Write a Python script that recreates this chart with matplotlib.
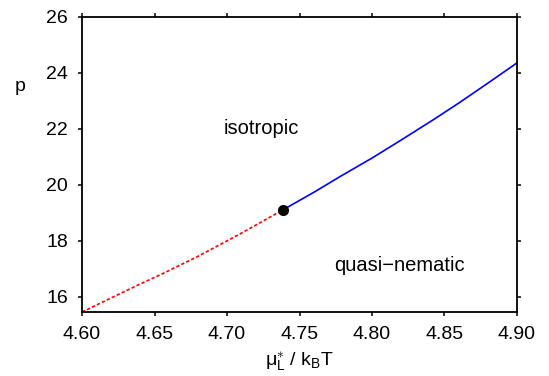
import matplotlib
matplotlib.use("Agg")
import matplotlib.pyplot as plt

plt.rcParams['font.family'] = ['Liberation Sans', 'DejaVu Sans']
plt.rcParams['mathtext.fontset'] = 'custom'
plt.rcParams['mathtext.rm'] = 'Liberation Sans'
plt.rcParams['mathtext.it'] = 'Liberation Sans'

# metastable branch (dashed red)
mu_meta = [4.600, 4.640, 4.654, 4.680, 4.709, 4.7386]
p_meta = [15.46, 16.46, 16.79, 17.45, 18.25, 19.11]

# stable coexistence branch (solid blue)
mu_stab = [4.7386, 4.760, 4.778, 4.800, 4.820, 4.842, 4.860, 4.880, 4.900]
p_stab = [19.11, 19.74, 20.30, 20.96, 21.60, 22.32, 22.93, 23.64, 24.36]

# critical end point
mu_crit = 4.7386
p_crit = 19.11

xticks = [4.60, 4.65, 4.70, 4.75, 4.80, 4.85, 4.90]
yticks = [16, 18, 20, 22, 24, 26]

fig = plt.figure(figsize=(5.49, 3.76), dpi=100)
ax = fig.add_axes([0.1494, 0.1702, 0.7923, 0.7846])

ax.plot(mu_meta, p_meta, color='red', lw=1.2, ls=(0, (2, 1.3)))
ax.plot(mu_stab, p_stab, color='blue', lw=1.2)
ax.plot([mu_crit], [p_crit], 'o', color='black', ms=7, zorder=5)

ax.text(4.724, 22.0, 'isotropic', ha='center', va='center', fontsize=14.5)
ax.text(4.819, 17.11, 'quasi\u2212nematic', ha='center', va='center', fontsize=14.5)

ax.set_xlim(4.60, 4.90)
ax.set_ylim(15.46, 26)
ax.set_xticks(xticks)
ax.set_xticklabels(['%.2f' % t for t in xticks])
ax.set_yticks(yticks)
ax.tick_params(direction='out', top=True, right=True, length=3, width=1.1,
               labelsize=14, pad=7)
for s in ax.spines.values():
    s.set_linewidth(1.3)

ax.set_xlabel(r'μ$^{\ast}_\mathrm{L}$ / k$_\mathrm{B}$T', fontsize=14, labelpad=5)
ax.set_ylabel('p', fontsize=14, rotation=0, va='center', ha='center')
ax.yaxis.set_label_coords(-0.143, 0.765)

fig.savefig('out.png', dpi=100)
